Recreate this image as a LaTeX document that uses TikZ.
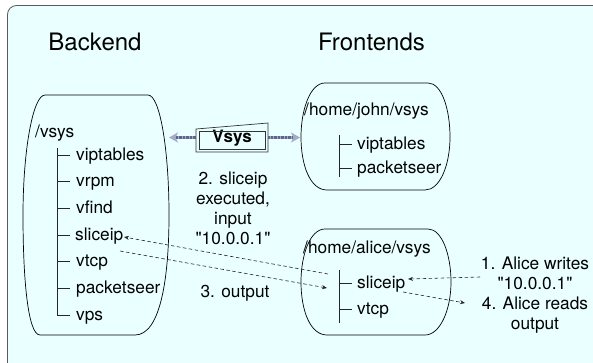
\documentclass[tikz,border=0pt]{standalone}
\usepackage{fontspec}
\setmainfont{TeX Gyre Heros}[Ligatures=TeXOff]
\usetikzlibrary{arrows.meta}
\definecolor{bgc}{RGB}{234,255,255}
\definecolor{framec}{RGB}{90,90,90}
\definecolor{vsA}{RGB}{165,170,200}
\definecolor{vsB}{RGB}{95,100,140}
\begin{document}
\begin{tikzpicture}[x=1pt,y=-1pt,
  title/.style={font=\fontsize{24}{28}\selectfont, inner sep=0pt},
  lbl/.style={font=\fontsize{17.3}{20}\selectfont, inner sep=0pt, anchor=base west},
  multi/.style={font=\fontsize{17.3}{20}\selectfont, inner sep=0pt, align=center},
  blob/.style={draw=black, line width=0.7pt},
  tree/.style={draw=black!85, line width=0.8pt},
  dasharrow/.style={draw=black!85, line width=0.6pt, dash pattern=on 3.5pt off 2.5pt, -{Stealth[length=5pt,width=4pt]}},
  vshaft/.style={draw=vsA, line width=3.5pt},
  vhatch/.style={draw=vsB, line width=3.5pt, dash pattern=on 0.7pt off 0.7pt},
]
\useasboundingbox (0,0) rectangle (593,362);
\clip (0,0) rectangle (593,362);
\draw[fill=bgc, draw=framec, line width=0.8pt, rounded corners=9pt] (7.5,5.5) rectangle (620,385);

% titles
\node[title] (tback) at (95,42) {Backend};
\node[title] (tfront) at (371.5,42) {Frontends};

% backend blob
\draw[blob] (45,95) -- (148,95) .. controls (160,95) and (169,150) .. (169,215)
  .. controls (169,280) and (160,335) .. (135,335) -- (40,335)
  .. controls (28,335) and (23,280) .. (23,215)
  .. controls (23,150) and (33,95) .. (45,95) -- cycle;
% john blob
\draw[blob] (325,83) -- (428,83) .. controls (442,83) and (450,110) .. (450,137)
  .. controls (450,165) and (440,190) .. (425,190) -- (327,190)
  .. controls (310,190) and (301,165) .. (301,137)
  .. controls (301,110) and (310,83) .. (325,83) -- cycle;
% alice blob
\draw[blob] (325,229) -- (428,229) .. controls (442,229) and (451,255) .. (451,282)
  .. controls (451,310) and (440,335) .. (425,335) -- (327,335)
  .. controls (310,335) and (301,310) .. (301,282)
  .. controls (301,255) and (310,229) .. (325,229) -- cycle;

% backend tree
\node[lbl] (bvsys) at (35,137) {/vsys};
\draw[tree] (57,148) -- (57,315) -- (70,315);
\foreach \yy in {155,181.67,208.33,235,261.67,288.33}{\draw[tree] (57,\yy) -- (70,\yy);}
\node[lbl] (bvip) at (76,160) {viptables};
\node[lbl] (bvrpm) at (76,186.67) {vrpm};
\node[lbl] (bvfind) at (76,213.33) {vfind};
\node[lbl] (bslice) at (75,240) {sliceip};
\node[lbl] (bvtcp) at (76,266.67) {vtcp};
\node[lbl] (bpack) at (76,293.33) {packetseer};
\node[lbl] (bvps) at (76,320) {vps};

% john tree
\node[lbl] (jvsys) at (304,115.5) {/home/john/vsys};
\draw[tree] (339,135) -- (339,177);
\draw[tree] (339,144) -- (352,144);
\draw[tree] (339,168) -- (352,168);
\node[lbl] (jvip) at (357,149) {viptables};
\node[lbl] (jpack) at (357,173) {packetseer};

% alice tree
\node[lbl] (avsys) at (303,253.5) {/home/alice/vsys};
\draw[tree] (339,270) -- (339,323);
\draw[tree] (339,283) -- (352,283);
\draw[tree] (339,309) -- (352,309);
\node[lbl] (aslice) at (357,288) {sliceip};
\node[lbl] (avtcp) at (357,314) {vtcp};

% Vsys box
\node[font=\bfseries\fontsize{17}{20}\selectfont, inner sep=0pt] (vsys) at (232,138) {Vsys};
\draw[black!80, line width=0.7pt] (199,131) rectangle (265,149);
\draw[black!80, line width=0.7pt] (196,129) -- (268,123) -- (268,152) -- (196,152) -- cycle;
\coordinate (vbl) at (196,137.5);
\coordinate (vbr) at (268,137.5);
\coordinate (vl) at (169,137.5);
\coordinate (vr) at (300,137.5);
\draw[vshaft, -{Stealth[length=9pt,width=10pt,inset=2.5pt]}] (vbl) -- (vl);
\draw[vhatch, shorten >=7pt] (vbl) -- (vl);
\draw[vshaft, -{Stealth[length=9pt,width=10pt,inset=2.5pt]}] (vbr) -- (vr);
\draw[vhatch, shorten >=7pt] (vbr) -- (vr);

% middle texts
\node[multi] (step2) at (233,208) {2. sliceip\\executed,\\input\\"10.0.0.1"};
\node[multi] (step3) at (235,293) {3. output};
% right texts
\node[multi] (steps14) at (535,295) {1. Alice writes\\"10.0.0.1"\\4. Alice reads\\output};

% dashed arrows
\coordinate (a1s) at (480,277);
\coordinate (a1e) at (408,279);
\coordinate (a4s) at (403,292);
\coordinate (a4e) at (465,303);
\coordinate (a3s) at (328,274);
\coordinate (a3e) at (124,237);
\coordinate (aos) at (120,251);
\coordinate (aoe) at (327,288);
\draw[dasharrow] (a1s) -- (a1e);
\draw[dasharrow] (a4s) -- (a4e);
\draw[dasharrow] (a3s) -- (a3e);
\draw[dasharrow] (aos) -- (aoe);
\end{tikzpicture}
\end{document}
